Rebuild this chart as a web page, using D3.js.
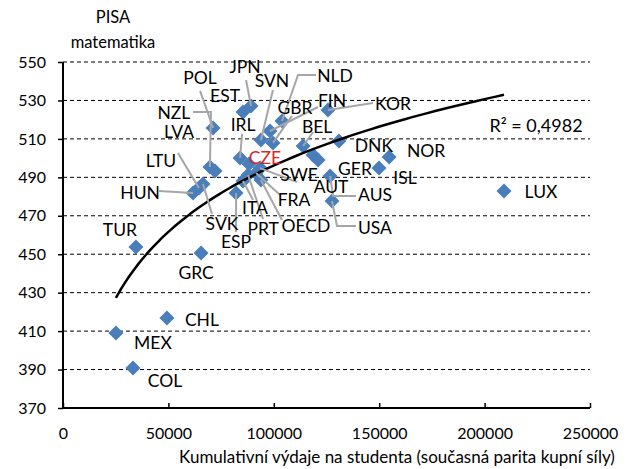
<!DOCTYPE html>
<html><head><meta charset="utf-8">
<script src="https://cdn.jsdelivr.net/npm/d3@7"></script>
<style>
body{margin:0;background:#fff}
svg{display:block}
text{font-family:Lato,"Liberation Sans",Arial,sans-serif;fill:#000}
</style>
</head><body>
<svg id="c" width="634" height="469"></svg>
<script>
// ---- data ----
const countries = ["JPN","EST","POL","NLD","FIN","GBR","SVN","BEL","KOR","DNK",
  "NOR","ISL","USA","AUS","GER","AUT",
  "IRL","CZE","SWE","FRA","PRT","ITA","OECD","ESP","SVK","HUN","LTU","NZL","LVA",
  "LUX","TUR","GRC","CHL","MEX","COL"];
const spending = [89200,85400,71200,103900,98200,99600,93900,113900,125700,130900,
  154700,149900,127600,126700,118600,121000,
  84000,88200,93500,91600,87800,85400,93900,82100,66400,61700,64500,69700,72100,
  209200,34600,65500,49300,25100,33200];
const pisa = [527.1,524.0,515.7,519.3,514.1,507.9,509.4,506.3,525.0,508.9,
  500.6,494.8,477.7,490.7,501.6,499.0,
  500.1,496.9,494.8,492.2,491.2,488.1,488.6,481.8,486.5,481.8,484.4,495.4,493.3,
  482.9,453.7,450.6,416.8,409.0,390.8];
const xTickValues = [0,50000,100000,150000,200000,250000];
const yTickValues = [370,390,410,430,450,470,490,510,530,550];
const highlighted = "CZE";
const r2Text = "R² = 0,4982";
const yTitleLines = ["PISA","matematika"];
const xTitle = "Kumulativní výdaje na studenta (současná parita kupní síly)";

// ---- label layout (pixel offsets of label centre from its point; leader anchors relative to label centre) ----
const labelLayout = {
 JPN:{d:[-6,-40],lead:[[1,14]]}, EST:{d:[-18,-16]}, POL:{d:[-13,-50],lead:[[0,13]]},
 NLD:{d:[53,-46],lead:[[-19,0],[-37,0]]}, FIN:{d:[62,-31],lead:[[-14,7]]},
 KOR:{d:[65,-7],lead:[[-20,0]]}, GBR:{d:[22,-35],lead:[[-3,8]]},
 SVN:{d:[11,-60],lead:[[1,10]]}, NZL:{d:[-36,-54],lead:[[19,-1],[37,-1]]},
 IRL:{d:[3,-33],lead:[[-1,9]]}, BEL:{d:[14,-20],lead:[[-4,6]]}, LVA:{d:[-36,-39]},
 DNK:{d:[35,4]}, NOR:{d:[37,-6]}, LTU:{d:[-38,-28],lead:[[17,-7]]}, CZE:{d:[16,-7]},
 GER:{d:[42,13]}, ISL:{d:[26,9]}, SWE:{d:[39,6],lead:[[-2,8]]},
 HUN:{d:[-53,-1],lead:[[19,-1]]}, AUT:{d:[13,26]}, FRA:{d:[38,26],lead:[[-14,-4]]},
 AUS:{d:[45,19],lead:[[-19,1],[-42,1]]}, LUX:{d:[37,1]}, ITA:{d:[12,27],lead:[[-2,-8]]},
 SVK:{d:[19,39],lead:[[-10,-9]]}, OECD:{d:[45,45],lead:[[-24,-5]]},
 PRT:{d:[15,53],lead:[[0,-9]]}, USA:{d:[43,27],lead:[[-19,-2],[-38,-2]]},
 ESP:{d:[0,48],lead:[[0,-9]]}, TUR:{d:[-16,-18]}, GRC:{d:[-5,19]},
 CHL:{d:[35,1]}, MEX:{d:[37,9]}, COL:{d:[32,12]}
};

const FONT = "Lato, Liberation Sans, Arial, sans-serif";
const svg = d3.select("#c");
const x = d3.scaleLinear().domain([0,250000]).range([63,590]);
const y = d3.scaleLinear().domain([370,550]).range([408,62]);
const data = countries.map((c,i)=>({c, sx:spending[i], sy:pisa[i]}));

// gridlines
svg.append("g").selectAll("line").data(yTickValues.filter(v=>v>370)).join("line")
  .attr("x1",x(0)).attr("x2",x(250000)).attr("y1",d=>y(d)).attr("y2",d=>y(d))
  .attr("stroke","#000").attr("stroke-width",1).attr("stroke-dasharray","4,3");

// axes
const yAxis = d3.axisLeft(y).tickValues(yTickValues).tickSize(5).tickPadding(12).tickFormat(d3.format("d"));
const gy = svg.append("g").attr("transform",`translate(${x(0)},0)`).call(yAxis);
const xAxis = d3.axisBottom(x).tickValues(xTickValues).tickSize(-5).tickPadding(20).tickFormat(d3.format("d"));
const gx = svg.append("g").attr("transform",`translate(0,${y(370)})`).call(xAxis);
[gx,gy].forEach(g=>{
  g.select(".domain").attr("stroke","#000").attr("stroke-width",2);
  g.selectAll(".tick line").attr("stroke","#000").attr("stroke-width",1.5);
  g.selectAll(".tick text").attr("font-size",16).attr("font-family",FONT).attr("fill","#000");
});
gy.select(".domain").attr("d",`M0,${y(550)}V${y(370)}`);
gx.select(".domain").attr("d",`M${x(0)},0H${x(250000)}`);

// diamonds
const r = 7.5;
svg.append("g").selectAll("path").data(data).join("path")
  .attr("d",`M0,${-r}L${r},0L0,${r}L${-r},0Z`)
  .attr("transform",d=>`translate(${x(d.sx)},${y(d.sy)})`)
  .attr("fill","#4a7ebb");

// logarithmic trendline fitted to the data
const lx = spending.map(Math.log);
const mx = d3.mean(lx), my = d3.mean(pisa);
const b = d3.sum(lx.map((v,i)=>(v-mx)*(pisa[i]-my))) / d3.sum(lx.map(v=>(v-mx)*(v-mx)));
const a = my - b*mx;
const [xmin,xmax] = d3.extent(spending);
const curve = d3.range(0,101).map(k=>{const xv = xmin*Math.pow(xmax/xmin,k/100); return [xv, a+b*Math.log(xv)];});
svg.append("path").datum(curve)
  .attr("d", d3.line().x(d=>x(d[0])).y(d=>y(d[1])))
  .attr("fill","none").attr("stroke","#000").attr("stroke-width",2.5);

// leaders
const lg = svg.append("g");
data.forEach(d=>{
  const L = labelLayout[d.c]; if(!L || !L.lead) return;
  const px = x(d.sx), py = y(d.sy);
  const lxp = px+L.d[0], lyp = py+L.d[1];
  const pts = L.lead.map(p=>[lxp+p[0], lyp+p[1]]).concat([[px,py]]);
  lg.append("path").attr("d", d3.line()(pts)).attr("fill","none")
    .attr("stroke","#a6a6a6").attr("stroke-width",2);
});

// labels
svg.append("g").selectAll("text").data(data).join("text")
  .attr("x",d=>x(d.sx)+labelLayout[d.c].d[0])
  .attr("y",d=>y(d.sy)+labelLayout[d.c].d[1])
  .attr("text-anchor","middle").attr("dominant-baseline","central")
  .attr("font-size",17.5)
  .style("fill",d=>d.c===highlighted?"#d42a2a":"#000")
  .text(d=>d.c);

// R² text
svg.append("text").attr("x",536).attr("y",125).attr("text-anchor","middle")
  .attr("dominant-baseline","central").attr("font-size",18).text(r2Text);

// titles
svg.append("g").selectAll("text").data(yTitleLines).join("text")
  .attr("x",113).attr("y",(d,i)=>23+i*25).attr("text-anchor","middle")
  .attr("font-size",16.5).text(d=>d);
svg.append("text").attr("x",397).attr("y",463).attr("text-anchor","middle")
  .attr("font-size",17).text(xTitle);
</script>
</body></html>
